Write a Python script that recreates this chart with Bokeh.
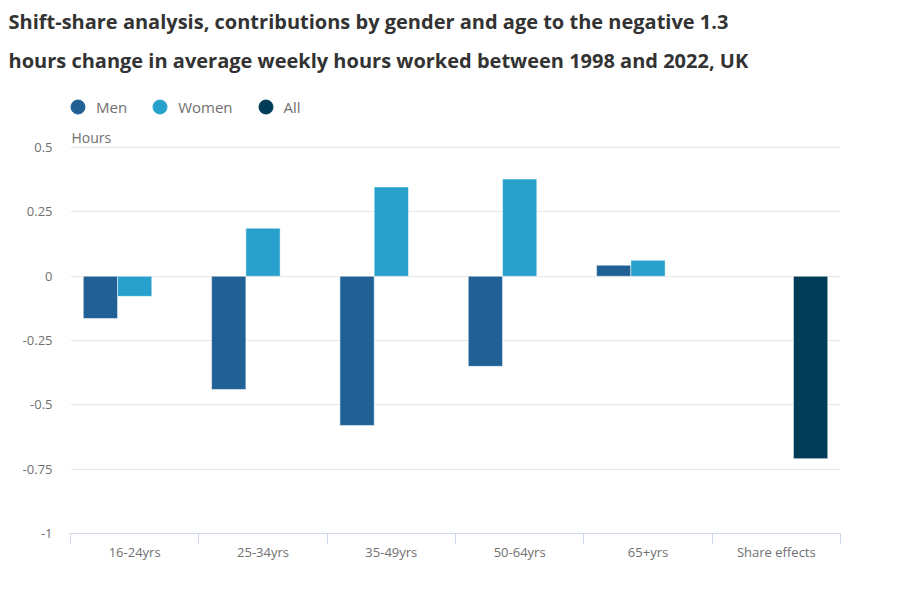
from bokeh.plotting import figure
from bokeh.models import (ColumnDataSource, FactorRange, Range1d, LinearAxis, CategoricalAxis,
                          FixedTicker, Label, Legend, LegendItem, Title)
from bokeh.transform import dodge
from bokeh.embed import file_html
from bokeh.resources import INLINE

# data
categories = ["16-24yrs", "25-34yrs", "35-49yrs", "50-64yrs", "65+yrs", "Share effects"]
men = [-0.164, -0.44, -0.58, -0.35, 0.043, float("nan")]
women = [-0.078, 0.187, 0.347, 0.378, 0.062, float("nan")]
all_ = [float("nan")] * 5 + [-0.709]
y_ticks = [0.5, 0.25, 0, -0.25, -0.5, -0.75, -1]
y_tick_labels = ["0.5", "0.25", "0", "-0.25", "-0.5", "-0.75", "-1"]
title_lines = ["Shift-share analysis, contributions by gender and age to the negative 1.3",
               "hours change in average weekly hours worked between 1998 and 2022, UK"]

MEN_C, WOMEN_C, ALL_C = "#206095", "#27a0cc", "#003c57"
FONT = "Open Sans"
GREY = "#707070"

src = ColumnDataSource(dict(cat=categories, men=men, women=women, all=all_))

# frame runs from below the titles to the x axis; 0.5..-1 fills 385px at the bottom
TITLE_H = 79
px_per_unit = 385 / 1.5
y_top = 0.5 + (148 - TITLE_H) / px_per_unit

p = figure(width=911, height=594, x_range=FactorRange(*categories, range_padding=0),
           y_range=Range1d(-1, y_top), x_axis_location=None, y_axis_location="left",
           title_location=None, output_backend="svg", toolbar_location=None,
           min_border_left=70, min_border_right=71, min_border_top=0, min_border_bottom=61)
p.outline_line_color = None

bw = 0.267
r_men = p.vbar(x=dodge("cat", -bw, range=p.x_range), top="men", width=bw, source=src,
               fill_color=MEN_C, line_color="white", line_width=0.5)
r_women = p.vbar(x=dodge("cat", 0, range=p.x_range), top="women", width=bw, source=src,
                 fill_color=WOMEN_C, line_color="white", line_width=0.5)
r_all = p.vbar(x=dodge("cat", bw, range=p.x_range), top="all", width=bw, source=src,
               fill_color=ALL_C, line_color="white", line_width=0.5)

# y axis
p.yaxis.ticker = FixedTicker(ticks=y_ticks)
p.yaxis.major_label_overrides = dict(zip(y_ticks, y_tick_labels))
p.yaxis.axis_line_color = None
p.yaxis.major_tick_line_color = None
p.yaxis.major_tick_out = 0
p.yaxis.minor_tick_line_color = None
p.yaxis.major_label_standoff = 18
p.yaxis.major_label_text_font = FONT
p.yaxis.major_label_text_font_size = "13px"
p.yaxis.major_label_text_color = GREY
p.ygrid.ticker = FixedTicker(ticks=y_ticks)
p.ygrid.grid_line_color = "#e6e6e6"
p.xgrid.grid_line_color = None

# x axis: boundary ticks at the category edges, labels on the categorical axis
edges = list(range(len(categories) + 1))
edge_axis = LinearAxis(ticker=FixedTicker(ticks=edges),
                       major_label_overrides={e: "" for e in edges}, major_label_standoff=0,
                       major_tick_out=10, major_tick_in=0, minor_tick_line_color=None,
                       axis_line_color="#ccd6eb", major_tick_line_color="#ccd6eb")
p.add_layout(edge_axis, "below")
cat_axis = CategoricalAxis(axis_line_color=None, major_tick_line_color=None, major_tick_out=0,
                           major_label_standoff=-1, major_label_text_font=FONT,
                           major_label_text_font_size="13px", major_label_text_color=GREY)
p.add_layout(cat_axis, "below")

# legend (one hidden point per key so the swatch has something to draw)
dummy = ColumnDataSource(dict(x=[categories[0]], y=[float("nan")]))
lr = []
for c in (MEN_C, WOMEN_C, ALL_C):
    lr.append(p.scatter("x", "y", source=dummy, marker="circle", size=14, fill_color=c, line_color=c))
legend = Legend(items=[LegendItem(label="Men", renderers=[lr[0]], index=0),
                       LegendItem(label="Women", renderers=[lr[1]], index=0),
                       LegendItem(label="All", renderers=[lr[2]], index=0)],
                location=(-10, 409), orientation="horizontal", padding=0, margin=0,
                spacing=15, label_standoff=1, glyph_width=35, glyph_height=35, label_height=20,
                label_text_font=FONT, label_text_font_size="15px", label_text_color=GREY,
                border_line_color=None, background_fill_alpha=0)
p.add_layout(legend)

p.add_layout(Label(x=1, y=396, x_units="screen", y_units="screen", text="Hours",
                   text_font=FONT, text_font_size="14px", text_color=GREY, text_baseline="middle"))

# two-line title, second line added first so it sits nearer the plot
for t in reversed(title_lines):
    p.add_layout(Title(text=t, align="left", offset=-62, standoff=10, text_font=FONT,
                       text_font_style="bold", text_font_size="20px", text_color="#333333"), "above")

open("out.html", "w").write(file_html(p, INLINE))
